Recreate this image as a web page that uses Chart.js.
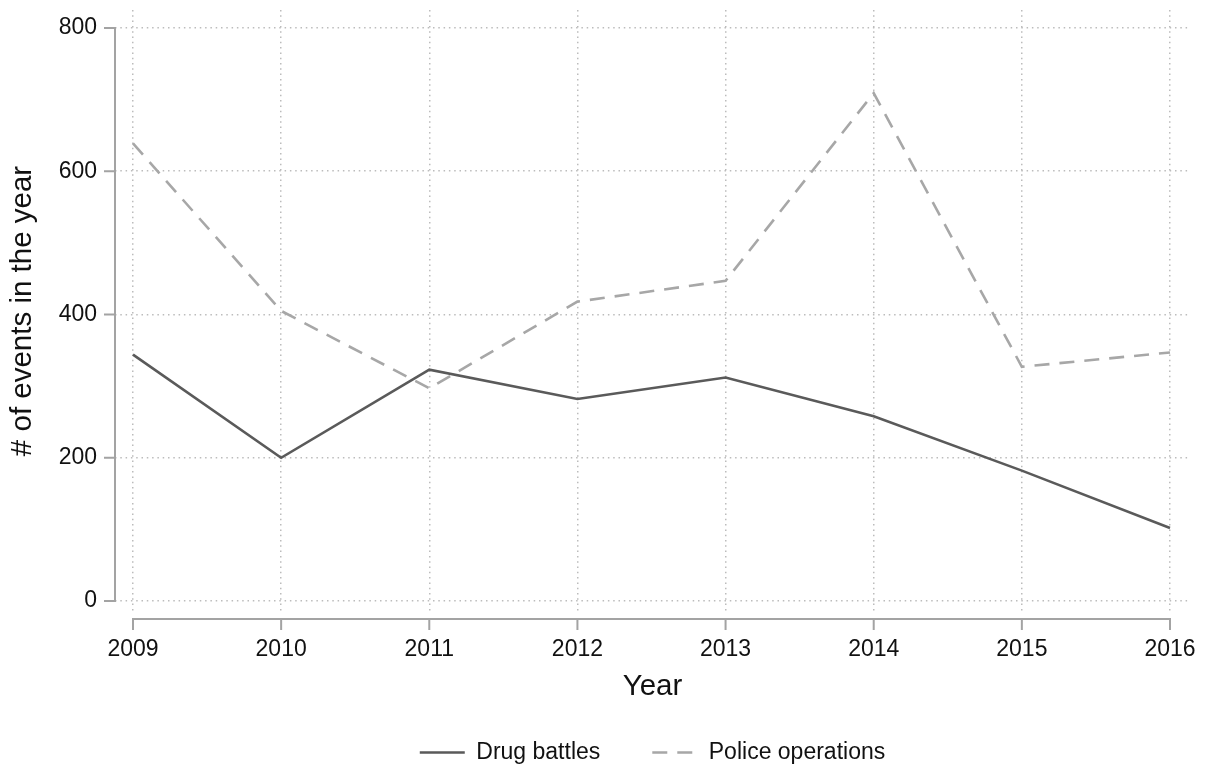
<!DOCTYPE html>
<html>
<head>
<meta charset="utf-8">
<title>Drug battles and police operations, 2009–2016</title>
<script src="https://cdn.jsdelivr.net/npm/chart.js@4.4.1/dist/chart.umd.min.js"></script>
<style>
  html, body { margin: 0; padding: 0; background: #fff; overflow: hidden; }
  #wrap { width: 1208px; height: 774px; }
</style>
</head>
<body>
<div id="wrap"><canvas id="chart" width="1208" height="774"></canvas></div>
<script>
// Yearly counts of events
const years = [2009, 2010, 2011, 2012, 2013, 2014, 2015, 2016];
const drugBattles = [344, 200, 323, 282, 312, 258, 182, 102];
const policeOperations = [639, 405, 297, 418, 447, 709, 327, 347];
const yTicks = [0, 200, 400, 600, 800];

const FONT = "'Liberation Sans', Arial, Helvetica, sans-serif";
const TEXT = '#111111';
const AXIS = '#a3a3a3';
const GRID = '#bcbcbc';

const toPoints = vals => years.map((yr, i) => ({ x: yr, y: vals[i] }));

// Axis lines that stop at the first and last tick, with outward tick marks,
// x axis set slightly below the plot region.
const detachedAxes = {
  id: 'detachedAxes',
  beforeDatasetsDraw(chart) {
    const { ctx, chartArea, scales: { x, y } } = chart;
    ctx.save();
    ctx.strokeStyle = AXIS;
    ctx.lineWidth = 2;
    ctx.lineCap = 'butt';
    ctx.beginPath();
    const ax = chartArea.left;
    ctx.moveTo(ax, y.getPixelForValue(yTicks[yTicks.length - 1]));
    ctx.lineTo(ax, y.getPixelForValue(yTicks[0]));
    yTicks.forEach(v => {
      const py = y.getPixelForValue(v);
      ctx.moveTo(ax - 11, py);
      ctx.lineTo(ax + 1, py);
    });
    const ay = chartArea.bottom + 7;
    ctx.moveTo(x.getPixelForValue(years[0]) - 1, ay);
    ctx.lineTo(x.getPixelForValue(years[years.length - 1]) + 1, ay);
    years.forEach(v => {
      const px = x.getPixelForValue(v);
      ctx.moveTo(px, ay - 1);
      ctx.lineTo(px, ay + 11);
    });
    ctx.stroke();
    ctx.restore();
  }
};

// Center the legend row under the plot region instead of the whole canvas.
const centerLegend = {
  id: 'centerLegend',
  afterLayout(chart) {
    const lg = chart.legend;
    if (!lg) return;
    const mid = (chart.chartArea.left + chart.chartArea.right) / 2;
    const shift = mid - (lg.left + lg.right) / 2;
    lg.left += shift;
    lg.right += shift;
  }
};

new Chart(document.getElementById('chart'), {
  type: 'line',
  data: {
    datasets: [
      {
        label: 'Drug battles',
        data: toPoints(drugBattles),
        borderColor: '#5a5a5a',
        backgroundColor: '#5a5a5a',
        borderWidth: 2.6,
        pointRadius: 0,
        tension: 0,
        fill: false
      },
      {
        label: 'Police operations',
        data: toPoints(policeOperations),
        borderColor: '#a7a7a7',
        backgroundColor: '#a7a7a7',
        borderWidth: 2.6,
        borderDash: [15, 10],
        pointRadius: 0,
        tension: 0,
        fill: false
      }
    ]
  },
  options: {
    responsive: false,
    animation: false,
    devicePixelRatio: 1,
    layout: { padding: { top: 10, right: 18, left: 0, bottom: 0 } },
    plugins: {
      tooltip: { enabled: false },
      legend: {
        position: 'bottom',
        labels: {
          boxWidth: 45,
          boxHeight: 0,
          padding: 52,
          color: TEXT,
          font: { family: FONT, size: 23 }
        }
      }
    },
    scales: {
      x: {
        type: 'linear',
        min: 2008.8785,
        max: 2016.135,
        afterBuildTicks: s => { s.ticks = years.map(v => ({ value: v })); },
        afterFit: s => {
          s.height = 77;
          s.paddingLeft = 0;
          s.paddingRight = 0;
        },
        grid: { color: GRID, lineWidth: 1.5, drawTicks: false },
        border: { display: false, dash: [1.5, 3.8] },
        ticks: {
          padding: 24,
          color: TEXT,
          font: { family: FONT, size: 23 },
          maxRotation: 0,
          autoSkip: false,
          callback: v => String(v)
        },
        title: {
          display: true,
          text: 'Year',
          color: TEXT,
          font: { family: FONT, size: 29.5 },
          padding: { top: 0, bottom: -15.7 }
        }
      },
      y: {
        type: 'linear',
        min: -15.36,
        max: 825.13,
        afterBuildTicks: s => { s.ticks = yTicks.map(v => ({ value: v })); },
        afterFit: s => {
          s.width = 115;
          s.paddingTop = 0;
          s.paddingBottom = 0;
        },
        grid: { color: GRID, lineWidth: 1.5, drawTicks: false },
        border: { display: false, dash: [1.5, 3.8] },
        ticks: {
          padding: 18,
          color: TEXT,
          font: { family: FONT, size: 23 },
          callback: v => String(v)
        },
        title: {
          display: true,
          text: '# of events in the year',
          color: TEXT,
          font: { family: FONT, size: 29.5 },
          padding: { top: 5.6, bottom: 0 }
        }
      }
    }
  },
  plugins: [detachedAxes, centerLegend]
});
</script>
</body>
</html>
